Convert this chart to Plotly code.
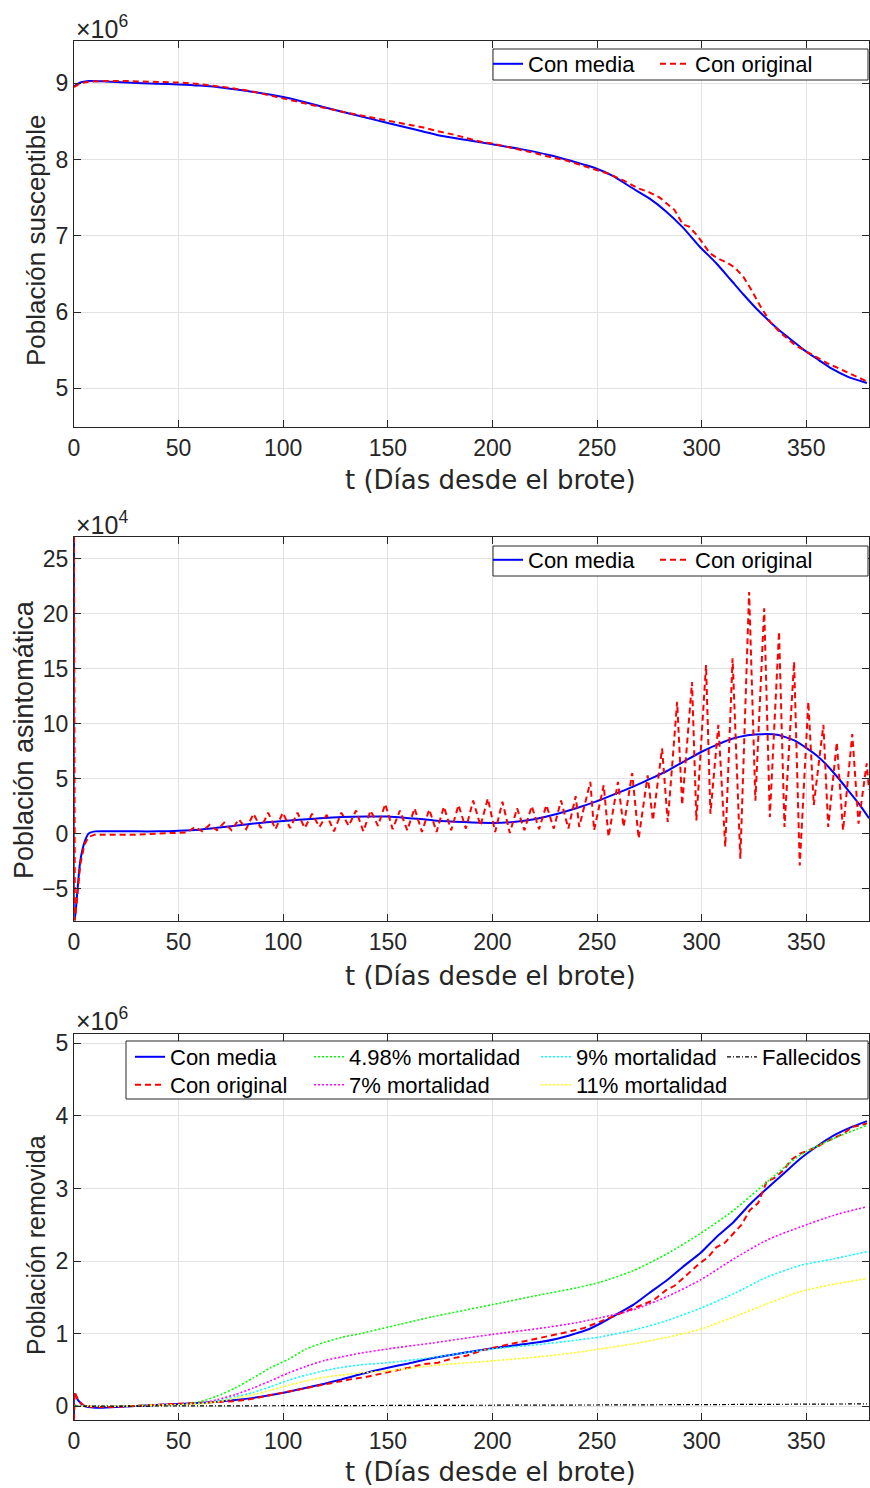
import plotly.graph_objects as go

W, H = 870, 1488
def px(x): return x / W
def py(y): return 1 - y / H

# ---------------- Panel 1: susceptible (x 1e6) ----------------
t_s = [0, 3, 7, 15, 25, 40, 50, 60, 72, 85, 100, 110, 121, 135, 150, 162, 174, 187, 200, 213,
       227, 238, 249, 258, 266, 275, 283, 291, 299, 307, 314, 320, 326, 332, 338, 344, 349, 356,
       362, 370, 379]
sus_media = [8.96, 9.01, 9.03, 9.025, 9.01, 8.995, 8.985, 8.97, 8.94, 8.89, 8.82, 8.755, 8.675,
             8.58, 8.48, 8.40, 8.32, 8.26, 8.20, 8.14, 8.06, 7.98, 7.89, 7.78, 7.64, 7.49, 7.32,
             7.11, 6.86, 6.64, 6.42, 6.23, 6.05, 5.89, 5.74, 5.61, 5.50, 5.37, 5.26, 5.15, 5.07]
t_s_o = [0, 3, 7, 15, 25, 40, 50, 60, 72, 85, 100, 110, 121, 135, 145, 152, 160, 167, 174, 181,
         188, 195, 200, 207, 214, 221, 228, 235, 242, 249, 256, 263, 270, 275, 280, 283, 287,
         291, 294, 298, 304, 308, 312, 316, 320, 324, 328, 333, 338, 345, 352, 360, 368, 379]
sus_orig = [8.95, 9.0, 9.02, 9.03, 9.03, 9.02, 9.01, 8.99, 8.95, 8.895, 8.80, 8.74, 8.67, 8.59,
            8.535, 8.50, 8.46, 8.42, 8.37, 8.33, 8.28, 8.23, 8.21, 8.17, 8.13, 8.08, 8.03, 7.99,
            7.93, 7.87, 7.81, 7.72, 7.62, 7.57, 7.50, 7.43, 7.34, 7.15, 7.12, 7.00, 6.77, 6.70,
            6.65, 6.58, 6.46, 6.28, 6.08, 5.86, 5.72, 5.56, 5.45, 5.33, 5.23, 5.09]

# ---------------- Panel 2: asymptomatic (x 1e4) ----------------
t_a = [0, 0.4, 1.5, 3, 5, 7, 10, 20, 30, 40, 50, 60, 72, 85, 100, 115, 128, 140, 150, 158, 172,
       186, 200, 210, 220, 232, 240, 250, 258, 267, 275, 283, 291, 300, 308, 315, 322, 329, 336,
       344, 350, 355, 360, 366, 371, 376, 380]
asi_media = [27.0, -7.9, -5.5, -2.5, -0.8, 0.0, 0.2, 0.2, 0.2, 0.2, 0.25, 0.35, 0.6, 0.9, 1.15,
             1.35, 1.5, 1.55, 1.55, 1.45, 1.2, 1.05, 0.97, 1.05, 1.3, 1.85, 2.3, 2.95, 3.55, 4.25,
             4.95, 5.65, 6.5, 7.45, 8.15, 8.65, 8.95, 9.05, 9.0, 8.5, 7.8, 7.1, 6.2, 4.9, 3.7,
             2.5, 1.4]
t_a_o = [0, 0.4, 1.5, 3, 5, 7, 10, 20, 30, 40, 50, 54, 57.8, 61.3, 64.8, 68.3, 71.8, 75.3, 78.8,
         82.3, 85.8, 89.3, 92.8, 96.3, 99.8, 103.3, 106.8, 110.3, 113.8, 117.3, 120.8, 124.3,
         127.8, 131.3, 134.8, 138.3, 141.8, 145.3, 148.8, 152.3, 155.8, 159.3, 162.8, 166.3,
         169.8, 173.3, 176.8, 180.3, 183.8, 187.3, 190.8, 194.3, 197.8, 201.3, 204.8, 208.3,
         211.8, 215.3, 218.8, 222.3, 225.8, 229.3, 232.8, 236.3, 239.8, 241.5, 246.8, 248.6,
         253.2, 255.5, 260.0, 262.7, 266.8, 269.9, 274.2, 276.7, 281.1, 283.8, 288.3, 290.7,
         295.4, 297.5, 302.1, 304.2, 308.0, 311.3, 314.8, 318.5, 322.7, 325.7, 329.9, 332.6,
         337.0, 339.6, 344.2, 346.9, 351.0, 353.6, 358.2, 360.5, 364.6, 367.6, 372.0, 375.0,
         378.9, 380]
asi_orig = [27.0, -7.9, -5.8, -2.8, -1.0, -0.3, -0.1, -0.1, -0.1, 0.0, 0.1, 0.1, 0.6, 0.2, 0.8,
            0.3, 1.0, 0.3, 1.3, 0.4, 1.8, 0.5, 1.9, 0.4, 1.9, 0.5, 1.9, 0.5, 1.8, 0.6, 1.7, 0.2,
            1.9, 0.7, 2.1, 0.2, 2.1, 0.7, 2.7, 0.4, 2.1, 0.3, 2.3, 0.15, 2.2, 0.15, 2.45, 0.3,
            2.6, 0.45, 3.0, 0.7, 3.2, 0.15, 2.9, 0.05, 2.3, 0.3, 2.5, 0.4, 2.6, 0.45, 3.0, 0.45,
            3.4, 0.6, 4.7, 0.3, 4.4, -0.3, 4.7, 0.6, 5.5, -0.45, 5.3, 1.2, 7.75, 1.05, 12.0, 2.6,
            13.8, 1.2, 15.35, 1.8, 9.9, -1.2, 15.95, -2.3, 22.0, 3.0, 20.5, 1.5, 18.4, 0.6,
            15.65, -2.9, 12.0, 2.6, 9.9, 0.6, 8.3, 0.3, 9.05, 0.9, 6.4, 4.0]

# ---------------- Panel 3: removed (x 1e6) ----------------
t_r = [0, 0.3, 2, 5, 10, 20, 34, 50, 60, 68.5, 77, 85.6, 94, 102.7, 111, 119.7, 128, 136.8, 150,
       160, 171, 185, 200, 211, 222, 231, 239, 245, 251.6, 259, 267.5, 275, 283.4, 291, 299.4,
       307, 315.3, 323, 331.2, 339, 347.1, 355, 363, 371, 379]
rem_media = [-0.19, 0.17, 0.08, 0.0, -0.02, -0.01, 0.01, 0.03, 0.045, 0.06, 0.085, 0.115, 0.155,
             0.20, 0.255, 0.31, 0.37, 0.44, 0.53, 0.59, 0.66, 0.73, 0.80, 0.84, 0.88, 0.93,
             0.995, 1.05, 1.14, 1.26, 1.40, 1.56, 1.735, 1.92, 2.11, 2.33, 2.54, 2.78, 3.0, 3.2,
             3.41, 3.58, 3.73, 3.84, 3.93]
t_r_o = [0, 0.3, 2, 5, 10, 20, 34, 50, 60, 68, 76, 83, 90, 97, 104, 111, 118, 125, 132, 139, 146,
         153, 160, 167, 174, 181, 188, 195, 202, 209, 216, 223, 230, 237, 244, 251, 258, 265,
         272, 277, 283, 287, 291, 295, 299, 303, 307, 311, 315, 319, 323, 327, 331, 335, 339,
         343, 347, 351, 355, 359, 363, 368, 372, 376, 379]
rem_orig = [-0.19, 0.2, 0.08, 0.0, -0.01, -0.01, 0.01, 0.03, 0.04, 0.05, 0.07, 0.09, 0.13, 0.17,
            0.21, 0.26, 0.29, 0.33, 0.37, 0.40, 0.44, 0.49, 0.53, 0.58, 0.60, 0.66, 0.70, 0.77,
            0.82, 0.86, 0.90, 0.94, 0.98, 1.03, 1.08, 1.16, 1.25, 1.33, 1.40, 1.46, 1.60, 1.66,
            1.76, 1.86, 1.97, 2.05, 2.19, 2.25, 2.38, 2.50, 2.70, 2.80, 3.09, 3.15, 3.25, 3.40,
            3.48, 3.53, 3.57, 3.64, 3.69, 3.76, 3.85, 3.87, 3.90]
t_m = [0, 10, 20, 34, 50, 60, 68.5, 77, 85.6, 94, 102.7, 111, 119.7, 128, 136.8, 150, 171, 200,
       222, 240, 251.6, 267.5, 283.4, 299.4, 315.3, 331.2, 347.1, 363, 379]
mort_498 = [0, 0, 0.0, 0.01, 0.02, 0.06, 0.14, 0.25, 0.39, 0.53, 0.65, 0.79, 0.88, 0.95, 1.0,
            1.09, 1.23, 1.40, 1.53, 1.63, 1.71, 1.87, 2.10, 2.38, 2.70, 3.09, 3.46, 3.69, 3.87]
mort_7 = [0, 0, 0, 0.01, 0.02, 0.04, 0.09, 0.16, 0.25, 0.35, 0.46, 0.55, 0.63, 0.68, 0.73, 0.79,
          0.87, 0.99, 1.07, 1.15, 1.22, 1.33, 1.51, 1.74, 2.03, 2.29, 2.47, 2.63, 2.75]
mort_9 = [0, 0, 0, 0.01, 0.02, 0.035, 0.07, 0.13, 0.19, 0.27, 0.36, 0.43, 0.49, 0.535, 0.57,
          0.60, 0.67, 0.79, 0.85, 0.91, 0.955, 1.05, 1.18, 1.35, 1.55, 1.78, 1.94, 2.03, 2.13]
mort_11 = [0, 0, 0, 0.01, 0.02, 0.03, 0.06, 0.11, 0.16, 0.22, 0.29, 0.35, 0.40, 0.43, 0.46,
           0.485, 0.56, 0.625, 0.68, 0.74, 0.79, 0.86, 0.95, 1.06, 1.23, 1.41, 1.58, 1.68, 1.76]
t_f = [0, 50, 100, 150, 200, 250, 300, 350, 379]
fallecidos = [0, 0.002, 0.006, 0.010, 0.013, 0.017, 0.022, 0.028, 0.032]

x_ticks = [0, 50, 100, 150, 200, 250, 300, 350]

# ---------------- styling ----------------
TXT = '#262626'
GRID = '#e3e3e3'
FONT = 'Liberation Sans, Arial, sans-serif'
BLUE, RED = '#0000ff', '#ff0000'

panels = [(41, 427), (537, 921), (1034, 1420)]
yranges = [[4.492, 9.555], [-7.96, 27.0], [-0.19, 5.13]]
yticks = [[5, 6, 7, 8, 9], [-5, 0, 5, 10, 15, 20, 25], [0, 1, 2, 3, 4, 5]]

fig = go.Figure()

def add(x, y, name, color, dash, width, ax, legend, shape='linear'):
    fig.add_trace(go.Scatter(
        x=x, y=y, name=name, mode='lines',
        line=dict(color=color, dash=dash, width=width, shape=shape, smoothing=0.6),
        xaxis='x' + ('' if ax == 1 else str(ax)), yaxis='y' + ('' if ax == 1 else str(ax)),
        legend=legend, showlegend=True))

add(t_s, sus_media, 'Con media', BLUE, 'solid', 2, 1, 'legend', 'spline')
add(t_s_o, sus_orig, 'Con original', RED, '6px,4px', 2, 1, 'legend2')
add(t_a, asi_media, 'Con media', BLUE, 'solid', 2, 2, 'legend3', 'spline')
add(t_a_o, asi_orig, 'Con original', RED, '6px,4px', 2, 2, 'legend4')
add(t_r, rem_media, 'Con media', BLUE, 'solid', 2, 3, 'legend5', 'spline')
add(t_r_o, rem_orig, 'Con original', RED, '6px,4px', 2, 3, 'legend6')
add(t_m, mort_498, '4.98% mortalidad', '#00ff00', '2px,2px', 1.6, 3, 'legend7', 'spline')
add(t_m, mort_7, '7% mortalidad', '#ff00ff', '2px,2px', 1.6, 3, 'legend8', 'spline')
add(t_m, mort_9, '9% mortalidad', '#00ffff', '2px,2px', 1.6, 3, 'legend9', 'spline')
add(t_m, mort_11, '11% mortalidad', '#ffff00', '2px,2px', 1.6, 3, 'legend10', 'spline')
add(t_f, fallecidos, 'Fallecidos', 'black', '4px,2px,1px,2px', 1.2, 3, 'legend11')

layout = dict(
    width=W, height=H, margin=dict(l=0, r=0, t=0, b=0),
    paper_bgcolor='white', plot_bgcolor='white',
    font=dict(family=FONT, color=TXT, size=22),
)
for i, ((top, bot), yr, yt) in enumerate(zip(panels, yranges, yticks), start=1):
    s = '' if i == 1 else str(i)
    layout['xaxis' + s] = dict(
        domain=[px(74), px(869)], anchor='y' + s, range=[0, 380], tickvals=x_ticks,
        showgrid=True, gridcolor=GRID, gridwidth=1, zeroline=False, automargin=False,
        showline=True, linecolor=TXT, linewidth=1, mirror='ticks',
        ticks='inside', ticklen=7, tickcolor=TXT,
        tickfont=dict(family=FONT, size=23, color=TXT))
    layout['yaxis' + s] = dict(
        domain=[py(bot), py(top)], anchor='x' + s, range=yr, tickvals=yt,
        showgrid=True, gridcolor=GRID, gridwidth=1, zeroline=False, automargin=False,
        showline=True, linecolor=TXT, linewidth=1, mirror='ticks',
        ticks='inside', ticklen=7, tickcolor=TXT,
        tickfont=dict(family=FONT, size=23, color=TXT))

def leg(x, y):
    return dict(x=px(x), y=py(y), xanchor='left', yanchor='middle', orientation='v',
                bgcolor='rgba(0,0,0,0)', borderwidth=0, itemwidth=30, tracegroupgap=0,
                traceorder='normal', font=dict(family=FONT, size=22, color='black'))

layout['legend'] = leg(488, 64)
layout['legend2'] = leg(655, 64)
layout['legend3'] = leg(488, 560)
layout['legend4'] = leg(655, 560)
layout['legend5'] = leg(130, 1057)
layout['legend6'] = leg(130, 1085)
layout['legend7'] = leg(309, 1057)
layout['legend8'] = leg(309, 1085)
layout['legend9'] = leg(536, 1057)
layout['legend10'] = leg(536, 1085)
layout['legend11'] = leg(722, 1057)

shapes = []
for (x0, y0, x1, y1) in [(493, 49, 868, 80), (493, 546, 868, 576), (126, 1041, 868, 1099)]:
    shapes.append(dict(type='rect', xref='paper', yref='paper', x0=px(x0), x1=px(x1),
                       y0=py(y1), y1=py(y0), line=dict(color=TXT, width=1),
                       fillcolor='white', layer='above'))
layout['shapes'] = shapes

ann = []
for (yy, exp) in [(27, '6'), (523, '4'), (1019, '6')]:
    ann.append(dict(text='×10<sup>' + exp + '</sup>', x=px(74), y=py(yy), xref='paper',
                    yref='paper', xanchor='left', yanchor='middle', showarrow=False,
                    font=dict(family=FONT, size=25, color=TXT)))
for yy in [480, 976, 1472]:
    ann.append(dict(text='t (Días desde el brote)', x=px(490), y=py(yy), xref='paper',
                    yref='paper', xanchor='center', yanchor='middle', showarrow=False,
                    font=dict(family='DejaVu Sans', size=26, color=TXT)))
for (xx, yy, txt, fs) in [(36, 240, 'Población susceptible', 26),
                          (24, 740, 'Población asintomática', 27),
                          (36, 1245, 'Población removida', 25)]:
    ann.append(dict(text=txt, x=px(xx), y=py(yy), xref='paper', yref='paper',
                    xanchor='center', yanchor='middle', textangle=-90, showarrow=False,
                    font=dict(family=FONT, size=fs, color=TXT)))
layout['annotations'] = ann

fig.update_layout(**layout)
fig.write_html('out.html')
